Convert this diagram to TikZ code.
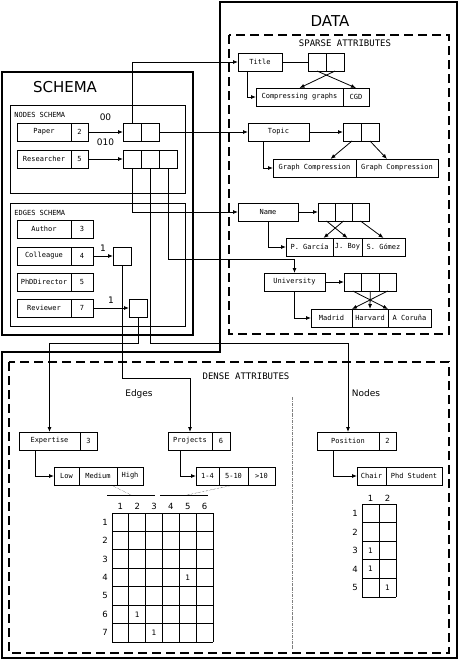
\documentclass[tikz,border=0pt]{standalone}
\usepackage{fontspec}
\setmainfont{DejaVu Sans}
\setmonofont{DejaVu Sans Mono}
\usetikzlibrary{positioning,arrows.meta}

\begin{document}
\begin{tikzpicture}[x=1pt,y=-1pt,line width=0.8pt,>={Latex[length=5pt,width=4pt]},
  cell/.style={draw,outer sep=0pt,inner sep=0pt,minimum height=18pt,minimum width=#1pt,font=\ttfamily\fontsize{7}{8}\selectfont},
  outline/.style={draw,line width=1.2pt},
  zone/.style={draw,line width=1.2pt,dash pattern=on 9pt off 5pt},
  bigtitle/.style={font=\fontsize{15}{18}\selectfont},
  caption/.style={font=\ttfamily\fontsize{9}{10}\selectfont},
  small/.style={font=\ttfamily\fontsize{7}{8}\selectfont,anchor=west,inner sep=0pt},
  num/.style={font=\fontsize{8.5}{9}\selectfont,inner sep=0pt},
  entry/.style={font=\fontsize{7.5}{8}\selectfont,inner sep=0pt},
  bit/.style={font=\fontsize{9}{10}\selectfont,inner sep=1pt}]
\useasboundingbox (0,0) rectangle (459,661);

% frames
\draw[outline] (220,2) -- (457,2) -- (457,658) -- (2,658) -- (2,352) -- (220,352) -- cycle;
\draw[outline] (2,72) rectangle (193,335);
\draw (10,105) rectangle (185,193);
\draw (10,203) rectangle (185,326);
\draw[zone] (229,35) rectangle (449,334);
\draw[zone] (9,362) rectangle (449,653);
\draw[gray,line width=0.6pt,dash pattern=on 3pt off 1pt on 0.8pt off 1pt] (292,397) -- (292,650);

\node[bigtitle] (schema) at (65,87) {SCHEMA};
\node[bigtitle] (data) at (330,21) {DATA};
\node[small] (nodesch) at (14,115) {NODES SCHEMA};
\node[small] (edgesch) at (14,213) {EDGES SCHEMA};
\node[caption] (sparse) at (345,43) {SPARSE ATTRIBUTES};
\node[caption] (dense) at (246,376) {DENSE ATTRIBUTES};
\node[font=\fontsize{9}{10}\selectfont] (edges) at (139,394) {Edges};
\node[font=\fontsize{9}{10}\selectfont] (nodes) at (366,393) {Nodes};

% nodes schema
\node[cell=54,anchor=north west] (paper) at (17,123) {Paper};
\node[cell=17,right=0pt of paper] (paperid) {2};
\node[cell=18,right=35pt of paperid] (pp1) {};
\node[cell=18,right=0pt of pp1] (pp2) {};
\draw[->] (paperid) -- node[bit,above=10pt] {00} (pp1);
\node[cell=54,anchor=north west] (res) at (17,150) {Researcher};
\node[cell=17,right=0pt of res] (resid) {5};
\node[cell=18,right=35pt of resid] (rp1) {};
\node[cell=18,right=0pt of rp1] (rp2) {};
\node[cell=18,right=0pt of rp2] (rp3) {};
\draw[->] (resid) -- node[bit,above=12pt] {010} (rp1);

% edges schema
\node[cell=54,anchor=north west] (author) at (17,220) {Author};
\node[cell=22,right=0pt of author] (authid) {3};
\node[cell=54,anchor=north west] (colleague) at (17,247) {Colleague};
\node[cell=22,right=0pt of colleague] (colid) {4};
\node[cell=18,right=20pt of colid] (col) {};
\draw[->] (colid) -- node[bit,above=3pt] {1} (col);
\node[cell=54,anchor=north west] (phd) at (17,273) {PhDDirector};
\node[cell=22,right=0pt of phd] (phdid) {5};
\node[cell=54,anchor=north west] (reviewer) at (17,299) {Reviewer};
\node[cell=22,right=0pt of reviewer] (revid) {7};
\node[cell=18,right=36pt of revid] (rev) {};
\draw[->] (revid) -- node[bit,above=3pt] {1} (rev);

% sparse attributes
\node[cell=44,anchor=north west] (title) at (238,53) {Title};
\node[cell=18,right=26pt of title] (t1) {};
\node[cell=18,right=0pt of t1] (t2) {};
\node[cell=87,anchor=north west] (cg) at (256,88) {Compressing graphs};
\node[cell=26,right=0pt of cg] (cgd) {CGD};
\draw (title) -- (t1);
\draw[->] ([xshift=9pt]title.south west) |- (cg.west);
\draw[->] (t1.south) -- (cgd.north);
\draw[->] (t2.south) -- (cg.north);

\node[cell=61,anchor=north west] (topic) at (248,123) {Topic};
\node[cell=18,right=34pt of topic] (tp1) {};
\node[cell=18,right=0pt of tp1] (tp2) {};
\node[cell=83,anchor=north west] (gc1) at (273,159) {Graph Compression};
\node[cell=82,right=0pt of gc1] (gc2) {Graph Compression};
\draw[->] (topic) -- (tp1);
\draw[->] ([xshift=15pt]topic.south west) |- (gc1.west);
\draw[->] (tp1.south) -- ([xshift=16pt]gc1.north);
\draw[->] (tp2.south) -- ([xshift=-10pt]gc2.north);

\node[cell=60,anchor=north west] (name) at (238,203) {Name};
\node[cell=17,right=20pt of name] (n1) {};
\node[cell=17,right=0pt of n1] (n2) {};
\node[cell=17,right=0pt of n2] (n3) {};
\node[cell=47,anchor=north west] (garcia) at (286,238) {P. García};
\node[cell=29,right=0pt of garcia] (jboy) {J. Boy};
\node[cell=43,right=0pt of jboy] (gomez) {S. Gómez};
\draw[->] (name) -- (n1);
\draw[->] (name.south) |- (garcia.west);
\draw[->] (n1.south) -- (jboy.north);
\draw[->] (n2.south) -- ([xshift=14pt]garcia.north);
\draw[->] (n3.south) -- (gomez.north);

\node[cell=61,anchor=north west] (univ) at (264,273) {University};
\node[cell=17.5,right=19pt of univ] (u1) {};
\node[cell=17.5,right=0pt of u1] (u2) {};
\node[cell=17.5,right=0pt of u2] (u3) {};
\node[cell=41,anchor=north west] (madrid) at (311,309) {Madrid};
\node[cell=36,right=0pt of madrid] (harvard) {Harvard};
\node[cell=43,right=0pt of harvard] (coruna) {A Coruña};
\draw[->] (univ) -- (u1);
\draw[->] (univ.south) |- (madrid.west);
\draw[->] (u1.south) -- (coruna.north west);
\draw[->] (u2.south) -- (harvard.north);
\draw[->] (u3.south) -- (madrid.north east);

% dense attributes
\node[cell=61,anchor=north west] (expertise) at (19,432) {Expertise};
\node[cell=17,right=0pt of expertise] (expid) {3};
\node[cell=25,anchor=north west] (low) at (54,467) {Low};
\node[cell=38,right=0pt of low] (medium) {Medium};
\node[cell=26,right=0pt of medium] (high) {High};
\draw[->] ([xshift=16pt]expertise.south west) |- (low.west);

\node[cell=44,anchor=north west] (projects) at (168,432) {Projects};
\node[cell=18,right=0pt of projects] (projid) {6};
\node[cell=23,anchor=north west] (r1) at (196,467) {1-4};
\node[cell=29,right=0pt of r1] (r2) {5-10};
\node[cell=27,right=0pt of r2] (r3) {>10};
\draw[->] ([xshift=12pt]projects.south west) |- (r1.west);

\node[cell=62,anchor=north west] (position) at (317,432) {Position};
\node[cell=17,right=0pt of position] (posid) {2};
\node[cell=29,anchor=north west] (chair) at (357,467) {Chair};
\node[cell=56,right=0pt of chair] (phdst) {Phd Student};
\draw[->] ([xshift=16pt]position.south west) |- (chair.west);

% pointers from the schema
\draw[->] (pp1.north) |- (title.west);
\draw[->] (pp2) -- (topic);
\draw[->] (rp1.south) |- (name.west);
\draw[->] (rp3.south) |- ([yshift=14pt]univ.north) -- (univ.north);
\draw[->] (rp2.south) -- ++(0,175) -| (position.north);
\draw[->] (rev.south) -- ++(0,26) -| (expertise.north);
\draw[->] (col.south) -- ++(0,113) -| (projects.north);

% edge matrix
\draw (107,495) -- coordinate (hd1) (155,495);
\draw (160,495) -- coordinate (hd2) (208,495);
\draw[thin,densely dotted] (hd1) -- ([xshift=-6pt]high.south west);
\draw[thin,densely dotted] ([xshift=3pt]hd2) -- (r2.south);
\foreach \c in {1,...,6} { \node[num] (ec\c) at ({112+(\c-0.5)*16.83},506) {\c}; };
\foreach \r in {1,...,7} { \node[num] (er\r) at (105,{513+(\r-0.5)*18.43}) {\r}; };
\foreach \c in {0,...,6} { \draw ({112+\c*16.83},513) -- ({112+\c*16.83},642); };
\foreach \r in {0,...,7} { \draw (112,{513+\r*18.43}) -- (213,{513+\r*18.43}); };
\foreach \r/\c in {4/5,6/2,7/3} { \node[entry] (e\r\c) at ({112+(\c-0.5)*16.83},{513+(\r-0.5)*18.43}) {1}; };

% node matrix
\foreach \c in {1,2} { \node[num] (nc\c) at ({362+(\c-0.5)*17},498) {\c}; };
\foreach \r in {1,...,5} { \node[num] (nr\r) at (355,{504+(\r-0.5)*18.6}) {\r}; };
\foreach \c in {0,1,2} { \draw ({362+\c*17},504) -- ({362+\c*17},597); };
\foreach \r in {0,...,5} { \draw (362,{504+\r*18.6}) -- (396,{504+\r*18.6}); };
\foreach \r/\c in {3/1,4/1,5/2} { \node[entry] (m\r\c) at ({362+(\c-0.5)*17},{504+(\r-0.5)*18.6}) {1}; };
\end{tikzpicture}
\end{document}
